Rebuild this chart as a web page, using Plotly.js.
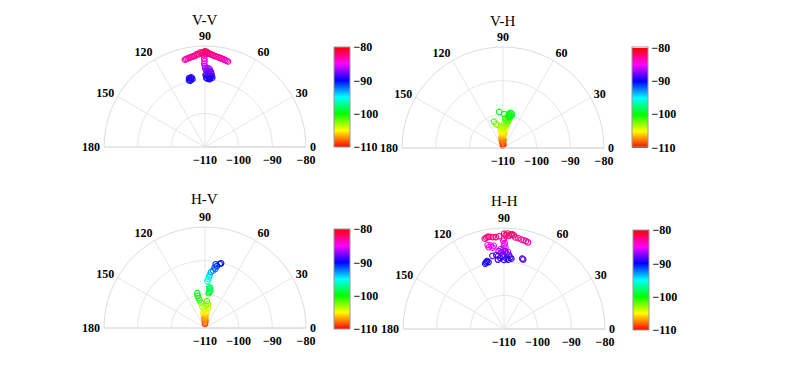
<!DOCTYPE html>
<html>
<head>
<meta charset="utf-8">
<script src="https://cdn.plot.ly/plotly-3.0.1.min.js"></script>
<style>html,body{margin:0;padding:0;background:#fff;}#chart{width:800px;height:380px;}</style>
</head>
<body>
<div id="chart"></div>
<script>
// ---- data (angle in degrees, received level in dBm; colour = level) ----
var titles = ["V-V", "V-H", "H-V", "H-H"];
var angleTicks = [0, 30, 60, 90, 120, 150, 180];
var levelTicks = [-110, -100, -90, -80];

var vvTheta = [90,91,89,92,88,93,87,90,94,86,91,89,95,
  96,97,98,99,100,101,102,103,
  85,84,83,82,81,80,79,78,77,76,75,
  90.5,90.3,90.6,90.2,89.8,89.5,
  88,87,86,88,85,87,89,86,88,85,87,89,86,84,88,
  87.5,86.5,88.5,85.5,87,89.5,84.5,86,
  101,102,103,101.5,103.5,102.5,100.5];
var vvR = [-81.6,-81.8,-81.7,-82.0,-82.1,-81.9,-82.3,-82.2,-82.4,-82.5,-82.6,-82.4,-82.3,
  -82.7,-82.8,-82.9,-83.0,-83.1,-83.2,-83.3,-83.4,
  -82.6,-82.8,-82.9,-83.0,-83.1,-83.2,-83.3,-83.4,-83.5,-83.6,-83.7,
  -83.8,-84.5,-85.2,-85.9,-86.5,-87.0,
  -87.2,-87.5,-87.8,-88.0,-88.2,-88.4,-88.5,-88.7,-88.9,-89.1,-89.2,-89.4,-89.5,-89.3,-89.7,
  -86.6,-86.9,-87.3,-87.6,-88.1,-88.6,-88.8,-89.8,
  -88.9,-89.1,-89.0,-89.4,-89.6,-89.8,-89.5];

var vhTheta = [92,88,95,85,98,90,100,93,86,
  97,91,87,95,89,84,93,99,
  91,86,83,88,95,84,81,97,
  87,82,79,84,80,86,78,
  81,77,79,75,80,76,78,
  96,88,106,109,103];
var vhR = [-109.3,-109.0,-108.6,-108.8,-108.2,-108.0,-107.6,-107.3,-107.5,
  -106.8,-106.5,-106.2,-105.8,-105.5,-105.7,-105.2,-105.0,
  -104.8,-104.5,-104.2,-103.8,-103.6,-103.4,-103.0,-104.1,
  -102.7,-102.4,-102.0,-101.8,-101.5,-101.2,-101.0,
  -100.7,-100.5,-100.2,-100.0,-99.7,-99.5,-99.3,
  -99.2,-99.9,-102.5,-101.7,-103.0];

var hvTheta = [90,88,93,86,91,95,
  87,92,84,96,89,
  85,93,82,97,88,
  83,99,86,101,
  102,103,102.5,
  84,83,82,83.5,82.5,84,
  87,86,85.5,85,
  84,82,80,81,79,80.5,77,76];
var hvR = [-108.8,-108.4,-108.0,-107.7,-107.3,-107.0,
  -106.6,-106.2,-105.9,-105.5,-105.2,
  -104.8,-104.4,-104.0,-103.6,-103.3,
  -102.8,-102.4,-102.0,-101.6,
  -101.0,-100.2,-99.4,
  -99.6,-99.2,-98.8,-98.4,-98.0,-97.7,
  -96.0,-95.4,-94.8,-94.2,
  -93.3,-92.8,-92.2,-91.8,-91.2,-90.8,-90.5,-90.2];

var hhTheta = [90,88,86,84,89,87,85,
  93,95,97,99,100,101,102,
  83,81,79,77.5,76,74.5,
  101,99,100.5,98,97,
  90,90.5,89.5,90,89,90.5,89.5,
  94,92,88,96,86,91,85,93,88,95,84,90,
  92.5,89,87,94.5,90.5,86.5,
  99,104,105,106,103,
  75.5,74.5];
var hhR = [-81.7,-81.6,-81.9,-82.0,-82.1,-82.3,-81.8,
  -82.4,-82.6,-82.5,-82.3,-82.2,-82.4,-82.6,
  -82.6,-82.7,-82.9,-83.0,-83.1,-83.3,
  -84.6,-84.9,-85.3,-85.6,-85.1,
  -83.2,-83.8,-84.5,-85.2,-85.8,-86.4,-87.0,
  -86.8,-87.3,-87.6,-87.9,-88.1,-88.4,-88.7,-88.9,-89.1,-89.3,-89.0,-89.5,
  -86.3,-86.9,-87.1,-88.2,-88.0,-89.4,
  -88.0,-89.2,-89.5,-89.8,-89.6,
  -88.4,-88.6];

// ---- styling ----
var serif = "Liberation Serif, Times New Roman, serif";
var tickFont = {family: serif, size: 12, color: "#000", weight: "bold"};
var hsv = [[0, "rgb(255,0,0)"], [1/6, "rgb(255,255,0)"], [2/6, "rgb(0,255,0)"],
  [0.5, "rgb(0,255,255)"], [4/6, "rgb(0,0,255)"], [5/6, "rgb(255,0,255)"], [1, "rgb(255,0,0)"]];

var thetas = [vvTheta, vhTheta, hvTheta, hhTheta];
var rs = [vvR, vhR, hvR, hhR];
var subplots = ["polar", "polar2", "polar3", "polar4"];
var domains = [
  {x: [104/800, 306/800], y: [1 - 147/380, 1 - 46/380]},
  {x: [402/800, 604/800], y: [1 - 148/380, 1 - 47/380]},
  {x: [104/800, 306/800], y: [1 - 328/380, 1 - 227/380]},
  {x: [403/800, 605/800], y: [1 - 329/380, 1 - 228/380]}
];
var cbPos = [
  {x: 334/800, y: 1 - 97/380},
  {x: 632/800, y: 1 - 97.5/380},
  {x: 334/800, y: 1 - 279/380},
  {x: 633/800, y: 1 - 280/380}
];
var titleY = [20, 21, 199, 201];

var data = [];
var layout = {
  width: 800, height: 380,
  margin: {l: 0, r: 0, t: 0, b: 0},
  paper_bgcolor: "#fff",
  showlegend: false,
  font: {family: serif, color: "#000"},
  annotations: []
};

for (var i = 0; i < 4; i++) {
  data.push({
    type: "scatterpolar",
    mode: "markers",
    subplot: subplots[i],
    theta: thetas[i],
    r: rs[i],
    marker: {
      symbol: "circle-open",
      size: 5.5,
      line: {width: 1.1},
      color: rs[i],
      cmin: -110, cmax: -80,
      colorscale: hsv,
      showscale: true,
      colorbar: {
        x: cbPos[i].x, xanchor: "left",
        y: cbPos[i].y, yanchor: "middle",
        len: 100, lenmode: "pixels",
        thickness: 16, thicknessmode: "pixels",
        xpad: 0, ypad: 0,
        outlinewidth: 1, outlinecolor: "#9a9a9a",
        tickvals: levelTicks,
        ticks: "",
        tickfont: tickFont
      }
    },
    hoverinfo: "r+theta"
  });
  layout[subplots[i]] = {
    domain: domains[i],
    sector: [0, 180],
    bgcolor: "#fff",
    radialaxis: {
      range: [-110, -80],
      tickvals: levelTicks,
      angle: 0,
      showline: true, linecolor: "#dcdcdc", linewidth: 1,
      gridcolor: "#e6e6e6",
      ticks: "outside", ticklen: 2, tickcolor: "rgba(0,0,0,0)",
      tickfont: tickFont
    },
    angularaxis: {
      tickvals: angleTicks,
      direction: "counterclockwise",
      rotation: 0,
      showline: true, linecolor: "#dcdcdc", linewidth: 1,
      gridcolor: "#e6e6e6",
      ticks: "outside", ticklen: 1, tickcolor: "rgba(0,0,0,0)",
      tickfont: tickFont
    }
  };
  var cx = (domains[i].x[0] + domains[i].x[1]) / 2;
  layout.annotations.push({
    text: titles[i], showarrow: false,
    xref: "paper", yref: "paper",
    x: cx, y: 1 - titleY[i] / 380,
    xanchor: "center", yanchor: "middle",
    font: {family: serif, size: 15, color: "#000"}
  });
}

Plotly.newPlot("chart", data, layout, {displayModeBar: false, staticPlot: true});
</script>
</body>
</html>
